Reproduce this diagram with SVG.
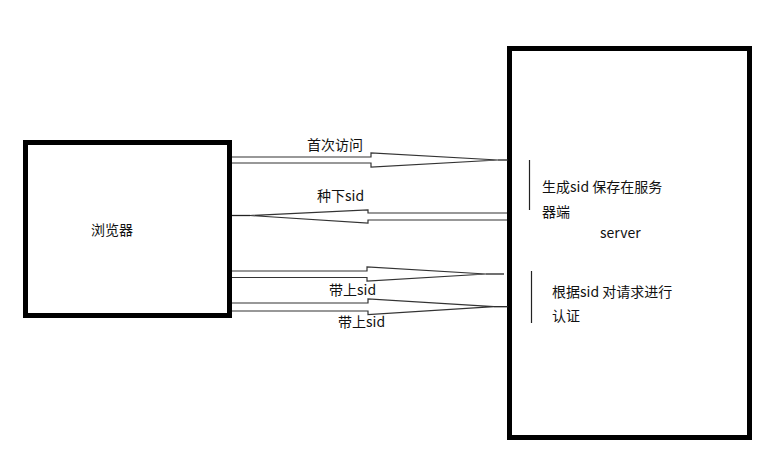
<svg xmlns="http://www.w3.org/2000/svg" width="777" height="464" viewBox="0 0 777 464">
<style>
.box{fill:#fff;stroke:#000;stroke-width:5}
.arr{fill:#fff;stroke:#333;stroke-width:1.2;stroke-linejoin:miter}
.ln{stroke:#222;stroke-width:1.3;fill:none}
.bar{stroke:#222;stroke-width:1.2}
text{font-family:"Noto Sans CJK SC","Noto Sans",sans-serif;font-size:14px;fill:#111}
</style>
<rect width="777" height="464" fill="#fff"/>
<g id="browser">
<rect class="box" x="25.5" y="142.5" width="204" height="173"/>
<text x="91" y="235">浏览器</text>
</g>
<g id="server">
<rect class="box" x="509.5" y="48.5" width="240" height="389"/>
<line class="bar" x1="529.5" y1="160" x2="529.5" y2="210"/>
<text x="542" y="192">生成sid 保存在服务</text>
<text x="542" y="216.5">器端</text>
<text x="600" y="238">server</text>
<line class="bar" x1="531.5" y1="271" x2="531.5" y2="323"/>
<text x="552" y="296.5">根据sid 对请求进行</text>
<text x="552" y="320.5">认证</text>
</g>
<g id="connectors">
<g id="a1">
<path class="arr" d="M232,157 H371 V153 L498,160 L371,167 V163 H232"/>
<line class="ln" x1="498" y1="160" x2="508" y2="160"/>
<text x="307" y="150">首次访问</text>
</g>
<g id="a2">
<path class="arr" d="M507,213 H368 V210 L250,215.5 L368,223 V220 H507"/>
<line class="ln" x1="232" y1="215.5" x2="250" y2="215.5"/>
<text x="317" y="201">种下sid</text>
</g>
<g id="a3">
<path class="arr" d="M232,271 H367 V267 L486,274 L367,281 V277.5 H232"/>
<line class="ln" x1="486" y1="274" x2="504" y2="274"/>
<text x="329" y="295">带上sid</text>
</g>
<g id="a4">
<path class="arr" d="M232,303 H368 V299 L494,306.7 L368,314.5 V311 H232"/>
<line class="ln" x1="494" y1="306.7" x2="508" y2="306.7"/>
<text x="338" y="327">带上sid</text>
</g>
</g>
</svg>
